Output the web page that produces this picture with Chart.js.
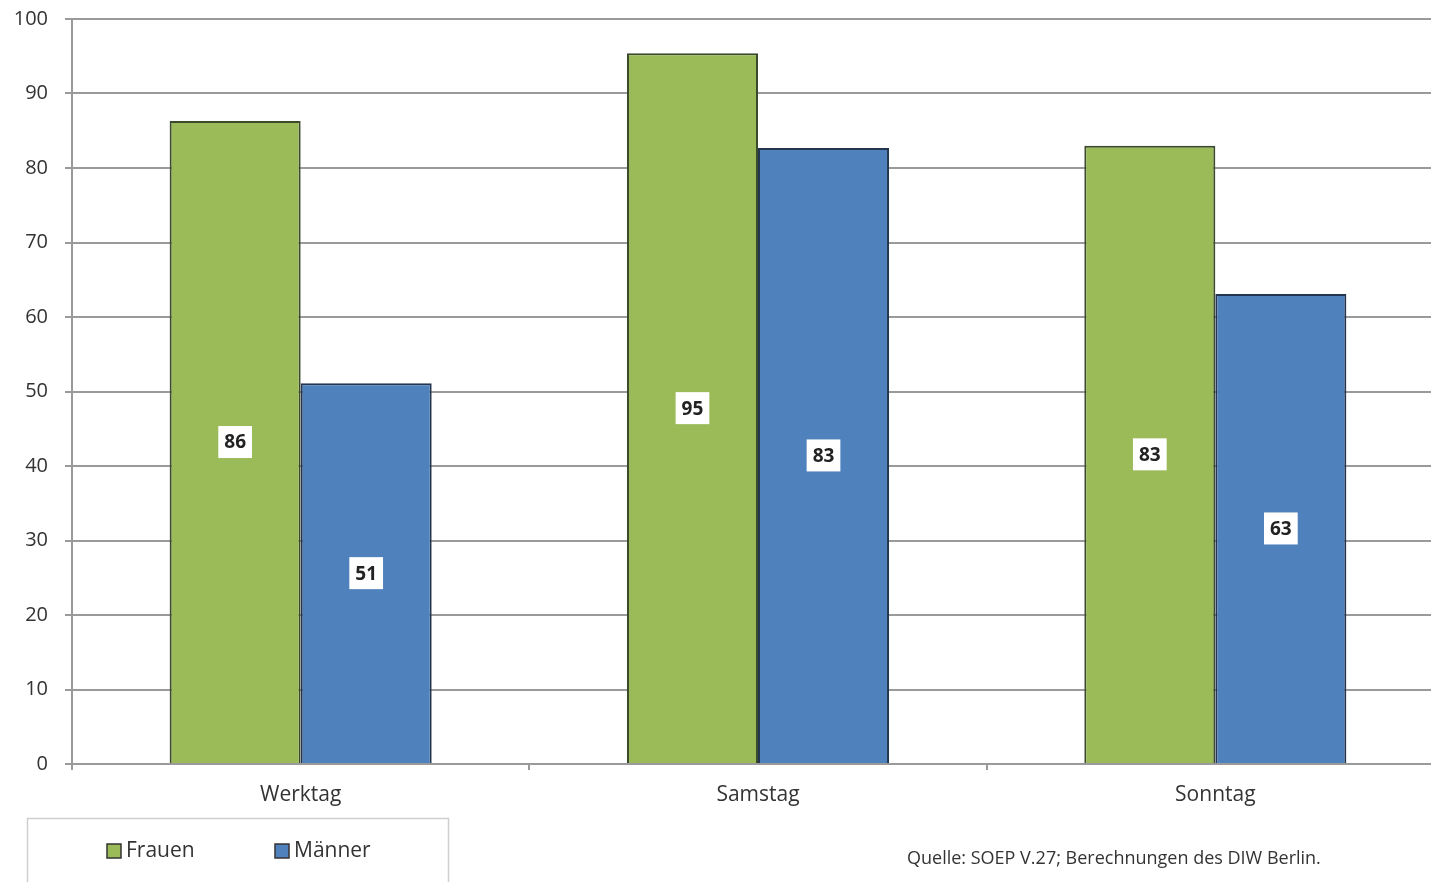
<!DOCTYPE html>
<html>
<head>
<meta charset="utf-8">
<script src="https://cdn.jsdelivr.net/npm/chart.js@4.4.1/dist/chart.umd.min.js"></script>
<style>
  html, body { margin: 0; padding: 0; background: #fff; overflow: hidden; }
  #wrap { width: 1444px; height: 882px; }
</style>
</head>
<body>
<div id="wrap"><canvas id="chart"></canvas></div>
<script>
// === Daten ===
const categories = ['Werktag', 'Samstag', 'Sonntag'];
const frauen = [86.3, 95.4, 83.0];
const maenner = [51.1, 82.7, 63.1];
const frauenLabels = ['86', '95', '83'];
const maennerLabels = ['51', '83', '63'];
const yTicks = [0, 10, 20, 30, 40, 50, 60, 70, 80, 90, 100];
const sourceText = 'Quelle: SOEP V.27; Berechnungen des DIW Berlin.';

const FONT = '"Open Sans", Lato, sans-serif';
const GRID = '#9a9a9a';
const TEXT = '#333';

// weisse Kaestchen mit Werten in der Mitte der Balken
const valueBoxes = {
  id: 'valueBoxes',
  afterDatasetsDraw(chart) {
    const ctx = chart.ctx;
    const texts = [frauenLabels, maennerLabels];
    ctx.save();
    ctx.font = 'bold 19px ' + FONT;
    ctx.textAlign = 'center';
    ctx.textBaseline = 'middle';
    chart.data.datasets.forEach((ds, di) => {
      chart.getDatasetMeta(di).data.forEach((bar, i) => {
        const cy = (bar.y + bar.base) / 2;
        const t = texts[di][i];
        const w = ctx.measureText(t).width + 12;
        ctx.fillStyle = '#fff';
        ctx.fillRect(bar.x - w / 2, cy - 16, w, 32);
        ctx.fillStyle = '#222';
        ctx.fillText(t, bar.x, cy + 1);
      });
    });
    ctx.restore();
  }
};

// Legende im Rahmen + Quellenangabe
const footer = {
  id: 'footer',
  afterDraw(chart) {
    const ctx = chart.ctx;
    ctx.save();
    ctx.strokeStyle = '#cfcfcf';
    ctx.lineWidth = 1.5;
    ctx.strokeRect(27.5, 818.5, 421, 80);
    ctx.font = '21px ' + FONT;
    ctx.textBaseline = 'middle';
    ctx.textAlign = 'left';
    const xs = [107, 275];
    chart.data.datasets.forEach((ds, i) => {
      ctx.fillStyle = ds.backgroundColor;
      ctx.fillRect(xs[i], 844, 14, 14);
      ctx.strokeStyle = '#333';
      ctx.lineWidth = 1.5;
      ctx.strokeRect(xs[i], 844, 14, 14);
      ctx.fillStyle = TEXT;
      ctx.fillText(ds.label, xs[i] + 19, 851);
    });
    ctx.font = '18px ' + FONT;
    ctx.fillStyle = TEXT;
    ctx.fillText(sourceText, 907, 859);
    ctx.restore();
  }
};

const ctx = document.getElementById('chart').getContext('2d');
new Chart(ctx, {
  type: 'bar',
  data: {
    labels: categories,
    datasets: [
      { label: 'Frauen', data: frauen, backgroundColor: '#9BBB59', borderColor: '#3b4a2c', borderWidth: 2, borderSkipped: 'bottom' },
      { label: 'Männer', data: maenner, backgroundColor: '#4F81BD', borderColor: '#24364f', borderWidth: 2, borderSkipped: 'bottom' }
    ]
  },
  options: {
    responsive: true,
    maintainAspectRatio: false,
    animation: false,
    layout: { padding: { top: 19, right: 0, left: 0, bottom: 0 } },
    datasets: { bar: { barPercentage: 1, categoryPercentage: 0.573 } },
    plugins: { legend: { display: false }, tooltip: { enabled: false } },
    scales: {
      x: {
        grid: { drawOnChartArea: false, drawTicks: true, tickLength: 6, color: GRID, lineWidth: 2, offset: true },
        border: { color: GRID, width: 2 },
        ticks: { color: TEXT, font: { family: FONT, size: 21 }, padding: 12 },
        afterFit(scale) { scale.height = 118; }
      },
      y: {
        min: 0, max: 100,
        afterBuildTicks(scale) { scale.ticks = yTicks.map(v => ({ value: v })); },
        grid: { color: GRID, lineWidth: 2, tickLength: 7 },
        border: { color: GRID, width: 2 },
        ticks: { color: TEXT, font: { family: FONT, size: 20 }, padding: 17 },
        afterFit(scale) { scale.width = 72; scale.paddingTop = 0; scale.paddingBottom = 0; }
      }
    }
  },
  plugins: [valueBoxes, footer]
});
</script>
</body>
</html>
